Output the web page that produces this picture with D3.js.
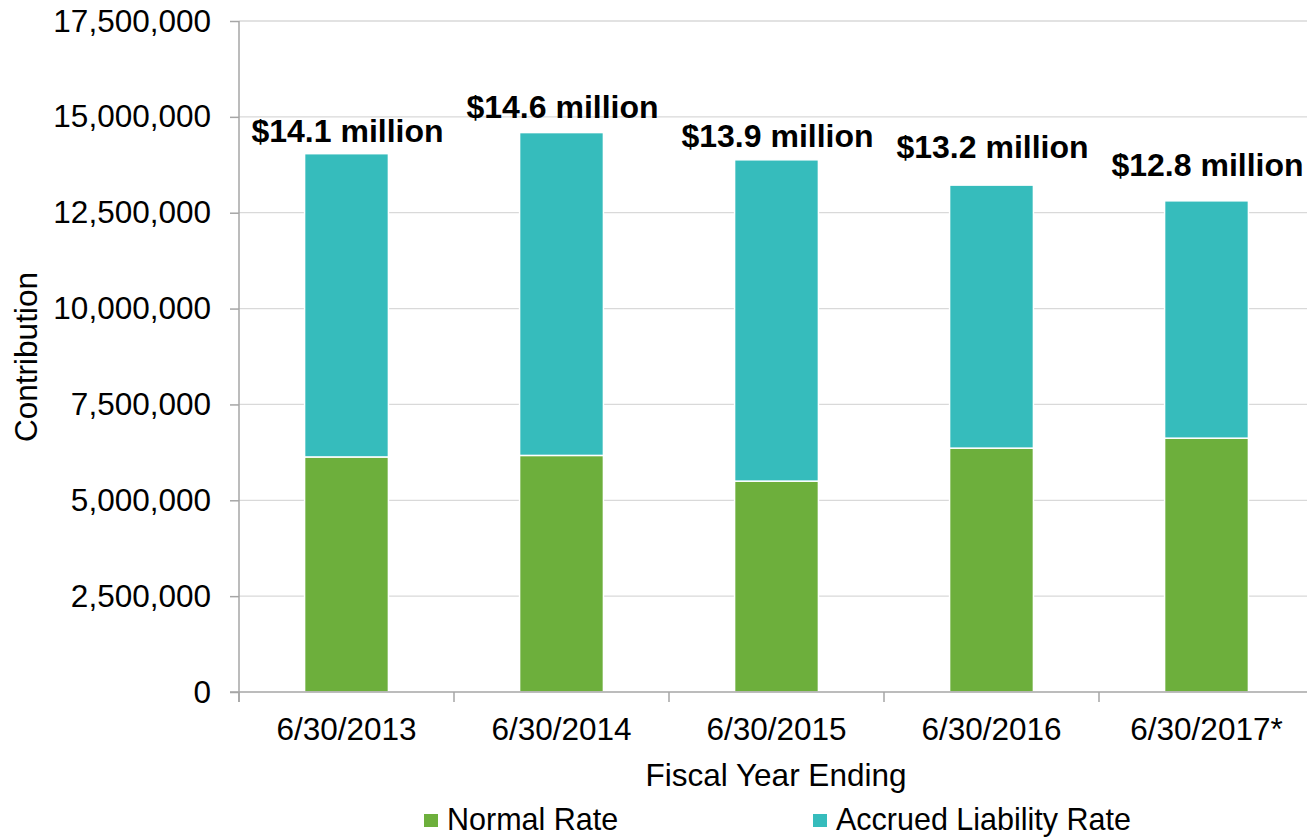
<!DOCTYPE html>
<html><head><meta charset="utf-8">
<script src="https://cdn.jsdelivr.net/npm/d3@7"></script>
<style>
html,body{margin:0;padding:0;background:#fff;}
svg{display:block;font-family:"Liberation Sans",Arial,sans-serif;}
</style></head>
<body><svg id="c" width="1307" height="837"></svg>
<script>
const categories = ["6/30/2013","6/30/2014","6/30/2015","6/30/2016","6/30/2017*"];
const normalRate = [6130000, 6170000, 5500000, 6360000, 6620000];
const accruedLiabilityRate = [7910000, 8420000, 8380000, 6860000, 6190000];
const totalLabels = ["$14.1 million","$14.6 million","$13.9 million","$13.2 million","$12.8 million"];
const yTicks = [0,2500000,5000000,7500000,10000000,12500000,15000000,17500000];
const seriesNames = ["Normal Rate","Accrued Liability Rate"];
const seriesColors = ["#6daf3c","#36bcbc"];
// label lift above bar top (layout)
const labelLift = [12,15,13,27,25];

const svg = d3.select("#c");
const L = 239, R = 1314, T = 21, B = 692;
const x = d3.scaleBand().domain(categories).range([L, R]).paddingInner(0).paddingOuter(0);
const y = d3.scaleLinear().domain([0,17500000]).range([B, T]);
const bw = x.bandwidth()*0.39;

// gridlines
svg.append("g").selectAll("line").data(yTicks.filter(d=>d>0)).join("line")
  .attr("x1", L).attr("x2", R).attr("y1", d=>y(d)).attr("y2", d=>y(d))
  .attr("stroke", "#d9d9d9").attr("stroke-width", 1.3);

// stacked data
const rows = categories.map((c,i)=>({cat:c, "Normal Rate":normalRate[i], "Accrued Liability Rate":accruedLiabilityRate[i]}));
const stack = d3.stack().keys(seriesNames)(rows);
svg.append("g").selectAll("g").data(stack).join("g")
  .attr("fill", (d,i)=>seriesColors[i])
  .selectAll("rect").data(d=>d).join("rect")
  .attr("x", d=>x(d.data.cat)+x.bandwidth()/2-bw/2)
  .attr("width", bw)
  .attr("y", d=>y(d[1]))
  .attr("height", d=>y(d[0])-y(d[1]))
  .attr("stroke", "#fff").attr("stroke-width", 1.5);

// y axis
const yAxis = d3.axisLeft(y).tickValues(yTicks).tickSize(9).tickPadding(19)
  .tickFormat(d3.format(","));
const gy = svg.append("g").attr("transform", `translate(${L},0)`).call(yAxis);
gy.select(".domain").attr("d", `M0,${T}V${B+10}`).attr("stroke", "#a6a6a6").attr("stroke-width", 1.5);
gy.selectAll(".tick line").attr("stroke", "#a6a6a6").attr("stroke-width", 1.5);
gy.selectAll(".tick text").attr("font-size", 31.5).attr("fill", "#000").attr("font-family", "Liberation Sans, Arial, sans-serif");

// x axis
const xAxis = d3.axisBottom(x).tickSize(0).tickPadding(26);
const gx = svg.append("g").attr("transform", `translate(0,${B})`).call(xAxis);
gx.select(".domain").attr("d", `M${L-9},0H${R}`).attr("stroke", "#a6a6a6").attr("stroke-width", 1.5);
gx.selectAll(".tick text").attr("font-size", 31.5).attr("fill", "#000").attr("font-family", "Liberation Sans, Arial, sans-serif");
// category boundary ticks
gx.append("g").selectAll("line").data(categories).join("line")
  .attr("x1", d=>x(d)).attr("x2", d=>x(d)).attr("y1", 0).attr("y2", 10)
  .attr("stroke", "#a6a6a6").attr("stroke-width", 1.5);

// total labels
svg.append("g").selectAll("text").data(categories).join("text")
  .attr("x", d=>x(d)+x.bandwidth()/2+1)
  .attr("y", (d,i)=>y(normalRate[i]+accruedLiabilityRate[i]) - labelLift[i])
  .attr("text-anchor", "middle").attr("font-weight", "bold").attr("font-size", 32)
  .text((d,i)=>totalLabels[i]);

// axis titles
svg.append("text").attr("transform", `translate(37,357) rotate(-90)`)
  .attr("text-anchor", "middle").attr("font-size", 31.5).text("Contribution");
svg.append("text").attr("x", 776).attr("y", 786)
  .attr("text-anchor", "middle").attr("font-size", 31.5).text("Fiscal Year Ending");

// legend
const legendX = [424, 813];
const lg = svg.append("g").selectAll("g").data(seriesNames).join("g")
  .attr("transform", (d,i)=>`translate(${legendX[i]},814)`);
lg.append("rect").attr("width", 14).attr("height", 13).attr("fill", (d,i)=>seriesColors[i]);
lg.append("text").attr("x", 23).attr("y", 16).attr("font-size", 30.5).text(d=>d);
</script></body></html>
